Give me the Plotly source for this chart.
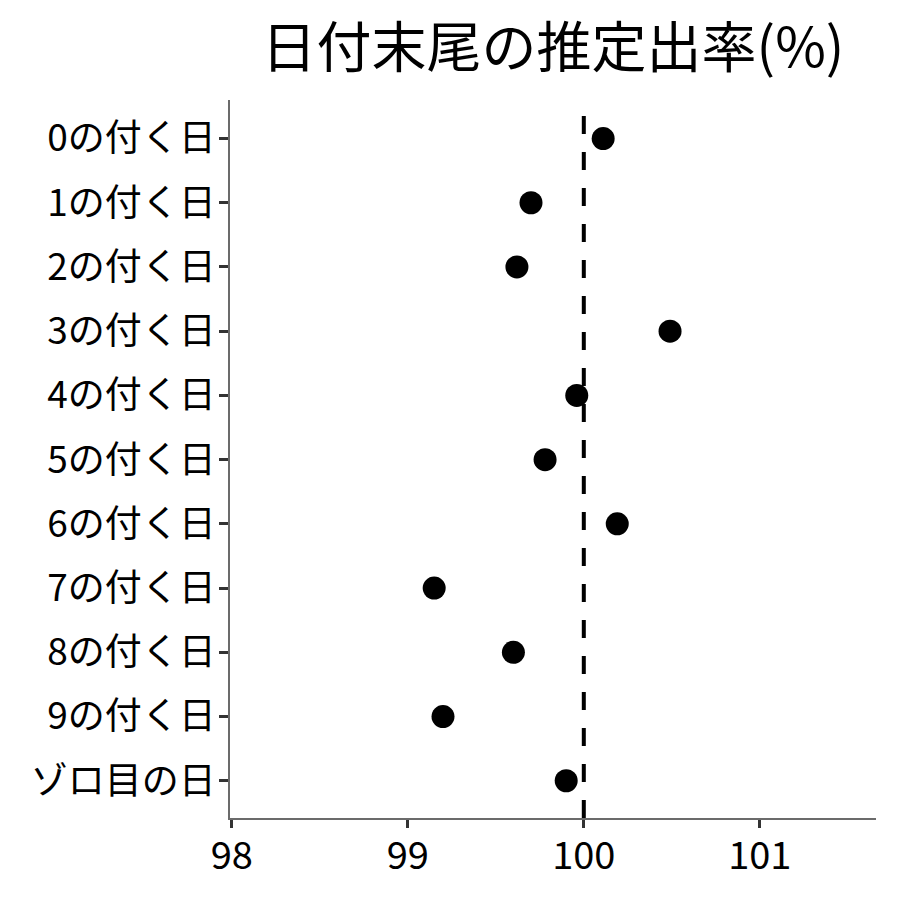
import plotly.graph_objects as go

categories = ["0の付く日", "1の付く日", "2の付く日", "3の付く日", "4の付く日",
              "5の付く日", "6の付く日", "7の付く日", "8の付く日", "9の付く日", "ゾロ目の日"]
values = [100.11, 99.70, 99.62, 100.49, 99.96, 99.78, 100.19, 99.15, 99.60, 99.20, 99.90]
x_ticks = [98, 99, 100, 101]
ref_value = 100

FONT = "Noto Sans CJK JP"

fig = go.Figure()
fig.add_trace(go.Scatter(
    x=values, y=categories, mode="markers",
    marker=dict(size=23, color="black"),
    showlegend=False, hoverinfo="x+y",
))
fig.add_shape(type="line", x0=ref_value, x1=ref_value, y0=0, y1=1,
              xref="x", yref="paper",
              line=dict(color="black", width=4, dash="18px,18px"))

fig.update_layout(
    width=900, height=900,
    margin=dict(l=222, r=32, t=92, b=90),
    paper_bgcolor="white", plot_bgcolor="white",
    font=dict(family=FONT, color="black"),
    title=dict(text="日付末尾の推定出率(%)", x=545 / 900, xanchor="center",
               y=1 - 40 / 900, yanchor="middle",
               font=dict(family=FONT, size=55, color="black")),
)
fig.update_xaxes(
    range=[97.99, 101.66], tickvals=x_ticks, ticktext=[str(v) for v in x_ticks],
    showgrid=False, zeroline=False,
    showline=True, linecolor="#6b6b6b", linewidth=1.5,
    ticks="outside", ticklen=8, tickwidth=2.5, tickcolor="#333333",
    tickfont=dict(family=FONT, size=38, color="black"),
    ticklabelstandoff=-4,
)
fig.update_yaxes(
    categoryorder="array", categoryarray=categories,
    range=[10.58, -0.6], autorange=False,
    showgrid=False, zeroline=False,
    showline=True, linecolor="#6b6b6b", linewidth=1.5,
    ticks="outside", ticklen=9, tickwidth=2.5, tickcolor="#333333",
    tickfont=dict(family=FONT, size=37, color="black"),
    ticklabelstandoff=-4,
)

fig.write_html("out.html")
